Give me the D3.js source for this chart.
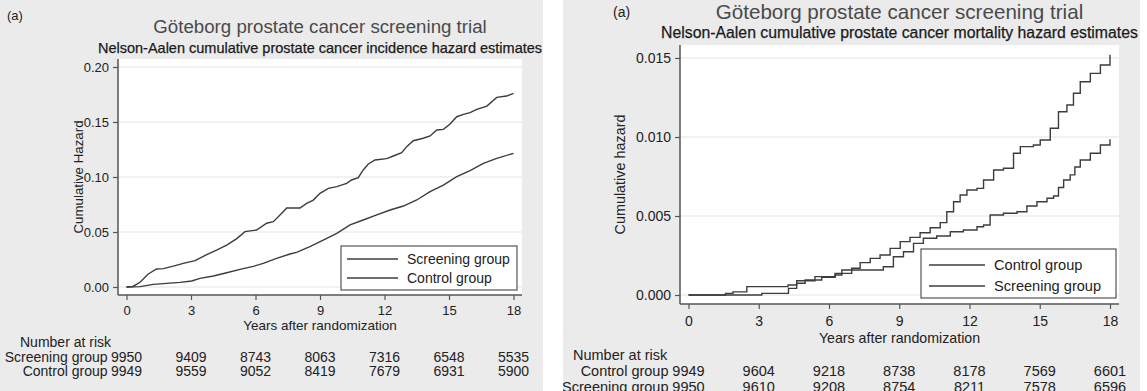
<!DOCTYPE html>
<html>
<head>
<meta charset="utf-8">
<script src="https://cdn.jsdelivr.net/npm/d3@7"></script>
<style>
  body { margin: 0; background: #fff; }
  svg { display: block; font-family: "Liberation Sans", Arial, sans-serif; }
</style>
</head>
<body>
<svg id="chart" width="1147" height="391"></svg>
<script>
// ---- data ----
var riskYears = [0, 3, 6, 9, 12, 15, 18];

// panel 1: incidence
var incScreening = [[0,0],[0.3,0.0005],[0.63,0.0043],[1.01,0.0118],[1.4,0.0164],[1.71,0.0167],[2.18,0.019],
  [2.64,0.0215],[3.19,0.024],[3.73,0.0294],[4.19,0.0336],[4.66,0.038],[5.13,0.044],[5.51,0.0503],[6.05,0.0518],
  [6.52,0.058],[6.83,0.0594],[7.29,0.0685],[7.45,0.0718],[8.07,0.0718],[8.38,0.076],[8.69,0.079],[9.0,0.0852],
  [9.39,0.0897],[9.78,0.0912],[10.24,0.0942],[10.47,0.0973],[10.78,0.0994],[11.01,0.1064],[11.25,0.1118],
  [11.56,0.1155],[12.1,0.1167],[12.41,0.1191],[12.8,0.1221],[13.03,0.1276],[13.34,0.133],[13.8,0.1352],
  [14.12,0.1373],[14.43,0.1427],[14.74,0.1433],[15.05,0.1482],[15.36,0.1548],[15.67,0.157],[15.98,0.1585],
  [16.29,0.1615],[16.76,0.1645],[17.22,0.1724],[17.68,0.1736],[18,0.176]];
var incControl = [[0,0],[0.63,0.0003],[1.25,0.0024],[1.87,0.0033],[2.49,0.0042],[3.03,0.0055],[3.42,0.0079],
  [4.04,0.01],[4.66,0.013],[5.28,0.016],[5.9,0.0188],[6.36,0.0215],[6.98,0.026],[7.6,0.03],[7.91,0.0315],
  [8.53,0.0367],[9.15,0.0427],[9.78,0.0488],[10.4,0.0564],[11.01,0.0609],[11.64,0.0655],[12.26,0.07],
  [12.88,0.0736],[13.5,0.0791],[14.12,0.0867],[14.74,0.0927],[15.36,0.1003],[15.98,0.1058],[16.6,0.1124],
  [17.22,0.117],[18,0.1215]];
var incScreeningRisk = [9950, 9409, 8743, 8063, 7316, 6548, 5535];
var incControlRisk = [9949, 9559, 9052, 8419, 7679, 6931, 5900];
var incTicks = [0, 0.05, 0.10, 0.15, 0.20];

// panel 2: mortality
var mortControl = [[0,0],[3.13,0.0001],[4.27,0.00042],[4.62,0.00074],[4.98,0.00095],[5.69,0.00112],[6.26,0.00137],
  [6.97,0.00169],[7.33,0.00205],[7.76,0.00232],[8.18,0.00253],[8.61,0.00295],[9.04,0.00338],[9.46,0.00365],
  [9.89,0.00394],[10.32,0.00426],[10.75,0.00458],[11.03,0.00527],[11.32,0.0059],[11.6,0.00633],[11.89,0.00665],
  [12.32,0.00675],[12.6,0.00728],[13.03,0.00791],[13.45,0.00802],[13.88,0.00897],[14.17,0.00939],[14.73,0.00949],
  [15.02,0.00981],[15.45,0.01055],[15.8,0.0116],[16.16,0.01203],[16.44,0.01277],[16.73,0.0135],[17.16,0.01403],
  [17.59,0.01456],[18,0.0152]];
var mortScreening = [[0,0],[1.58,0.0001],[1.9,0.0002],[2.49,0.00053],[4.25,0.00063],[4.62,0.0009],[5.4,0.00116],
  [6.26,0.00127],[6.55,0.00158],[8.32,0.00179],[8.75,0.00242],[9.18,0.00274],[9.61,0.00327],[10.03,0.00359],
  [10.6,0.00373],[11.18,0.004],[11.74,0.00411],[12.32,0.00432],[12.6,0.00443],[12.88,0.00506],[13.45,0.00517],
  [14.03,0.00527],[14.45,0.00563],[14.88,0.0059],[15.31,0.00612],[15.59,0.00627],[15.8,0.0068],[16.02,0.00728],
  [16.3,0.0076],[16.5,0.0081],[16.73,0.00854],[17.16,0.00897],[17.59,0.00949],[18,0.00985]];
var mortControlRisk = [9949, 9604, 9218, 8738, 8178, 7569, 6601];
var mortScreeningRisk = [9950, 9610, 9208, 8754, 8211, 7578, 6596];
var mortTicks = [0, 0.005, 0.010, 0.015];

var svg = d3.select('#chart');
var lineCol = '#3c3c3c';

function drawPanel(p) {
  var g = svg.append('g');
  var clipId = 'clip' + p.id;
  svg.append('clipPath').attr('id', clipId).append('rect')
    .attr('x', p.bx0).attr('y', 0).attr('width', p.bx1 - p.bx0).attr('height', 391);
  g.attr('clip-path', 'url(#' + clipId + ')');

  g.append('rect').attr('x', p.bx0).attr('y', 0).attr('width', p.bx1 - p.bx0).attr('height', 391)
    .attr('fill', '#ebebeb');

  var x = d3.scaleLinear().domain([0, 18]).range([p.x0, p.x18]);
  var y = d3.scaleLinear().domain([0, p.yTicks[p.yTicks.length - 1]]).range([p.y0, p.yTop]);
  var cx = (p.left + p.right) / 2;

  // plot area
  g.append('rect').attr('x', p.left).attr('y', p.top).attr('width', p.right - p.left)
    .attr('height', p.bottom - p.top).attr('fill', '#fff');
  g.selectAll('.grid').data(p.yTicks).enter().append('line')
    .attr('x1', p.left).attr('x2', p.right)
    .attr('y1', function(d){ return y(d); }).attr('y2', function(d){ return y(d); })
    .attr('stroke', '#ececec').attr('stroke-width', 1.5);

  // titles
  g.append('text').attr('x', p.aX).attr('y', p.aY).attr('font-size', p.aSize).attr('fill', '#222').text('(a)');
  g.append('text').attr('x', cx).attr('y', p.titleY).attr('text-anchor', 'middle')
    .attr('font-size', p.titleSize).attr('fill', '#4a4a4a').text('Göteborg prostate cancer screening trial');
  g.append('text').attr('x', cx).attr('y', p.subY).attr('text-anchor', 'middle')
    .attr('font-size', p.subSize).attr('fill', '#1a1a1a').attr('stroke', '#1a1a1a').attr('stroke-width', 0.25)
    .text(p.subtitle);

  // axes
  var yAxis = d3.axisLeft(y).tickValues(p.yTicks).tickFormat(d3.format(p.yFmt)).tickSize(5).tickPadding(4);
  var ya = g.append('g').attr('transform', 'translate(' + p.left + ',0)').call(yAxis);
  ya.select('.domain').attr('d', 'M0,' + p.top + 'V' + p.bottom);
  var xAxis = d3.axisBottom(x).tickValues(riskYears).tickSize(5).tickPadding(p.xPad);
  var xa = g.append('g').attr('transform', 'translate(0,' + p.bottom + ')').call(xAxis);
  xa.select('.domain').attr('d', 'M' + p.left + ',0H' + p.right);
  [ya, xa].forEach(function(a) {
    a.selectAll('.domain').attr('stroke', '#555').attr('stroke-width', 1.5);
    a.selectAll('.tick line').attr('stroke', '#555').attr('stroke-width', 1.2);
    a.selectAll('.tick text').attr('fill', '#222').attr('font-size', p.tickSize)
      .attr('font-family', '"Liberation Sans", Arial, sans-serif');
  });

  g.append('text').attr('transform', 'translate(' + p.yLabX + ',' + ((p.top + p.bottom) / 2) + ') rotate(-90)')
    .attr('text-anchor', 'middle').attr('font-size', p.yLabSize).attr('fill', '#222').text(p.yLabel);
  g.append('text').attr('x', cx).attr('y', p.xLabY).attr('text-anchor', 'middle')
    .attr('font-size', p.xLabSize).attr('fill', '#222').text('Years after randomization');

  // lines
  var line = d3.line().x(function(d){ return x(d[0]); }).y(function(d){ return y(d[1]); }).curve(p.curve);
  p.series.forEach(function(s) {
    g.append('path').datum(s.data).attr('d', line).attr('fill', 'none')
      .attr('stroke', lineCol).attr('stroke-width', 1.4);
  });

  // legend
  g.append('rect').attr('x', p.lg.x).attr('y', p.lg.y).attr('width', p.lg.w).attr('height', p.lg.h)
    .attr('fill', '#fff').attr('stroke', '#555').attr('stroke-width', 1.2);
  p.series.forEach(function(s, i) {
    var ly = p.lg.y + p.lg.row0 + i * p.lg.step;
    g.append('line').attr('x1', p.lg.x + p.lg.l0).attr('x2', p.lg.x + p.lg.l1)
      .attr('y1', ly).attr('y2', ly).attr('stroke', lineCol).attr('stroke-width', 1.4);
    g.append('text').attr('x', p.lg.x + p.lg.tx).attr('y', ly + 5).attr('font-size', p.lg.size)
      .attr('fill', '#222').text(s.name);
  });

  // number at risk table
  g.append('text').attr('x', p.narX).attr('y', p.narY).attr('font-size', p.narSize).attr('fill', '#222')
    .text('Number at risk');
  p.series.forEach(function(s, i) {
    var ry = p.narY + p.rowGap * (i + 1);
    g.append('text').attr('x', x(0) - p.labGap).attr('y', ry).attr('text-anchor', 'end')
      .attr('font-size', p.narSize).attr('fill', '#222').text(s.name);
    g.selectAll('.risk' + i).data(s.risk).enter().append('text')
      .attr('x', function(d, j){ return x(riskYears[j]); }).attr('y', ry)
      .attr('text-anchor', 'middle').attr('font-size', p.narSize).attr('fill', '#222')
      .text(function(d){ return d; });
  });
}

drawPanel({
  id: 1, bx0: 0, bx1: 543,
  left: 118, right: 522, top: 59, bottom: 295,
  x0: 126.5, x18: 513.5, y0: 287, yTop: 67,
  yTicks: incTicks, yFmt: '.2f', tickSize: 13, xPad: 6,
  aX: 7, aY: 20, aSize: 13,
  titleY: 33, titleSize: 18.7, subY: 53, subSize: 14.5,
  subtitle: 'Nelson-Aalen cumulative prostate cancer incidence hazard estimates',
  yLabel: 'Cumulative Hazard', yLabX: 83, yLabSize: 13.3,
  xLabY: 330, xLabSize: 13.5,
  curve: d3.curveLinear,
  series: [
    { name: 'Screening group', data: incScreening, risk: incScreeningRisk },
    { name: 'Control group', data: incControl, risk: incControlRisk }
  ],
  lg: { x: 341, y: 246, w: 176, h: 44, row0: 13, step: 19, l0: 6, l1: 57, tx: 66, size: 14 },
  narX: 20, narY: 347, narSize: 14, rowGap: 14.5, labGap: 19
});

drawPanel({
  id: 2, bx0: 563, bx1: 1140,
  left: 680, right: 1119, top: 45, bottom: 304,
  x0: 688.5, x18: 1110, y0: 295, yTop: 58,
  yTicks: mortTicks, yFmt: '.3f', tickSize: 14, xPad: 7,
  aX: 613, aY: 17, aSize: 14,
  titleY: 19, titleSize: 20.6, subY: 38, subSize: 15.8,
  subtitle: 'Nelson-Aalen cumulative prostate cancer mortality hazard estimates',
  yLabel: 'Cumulative hazard', yLabX: 625, yLabSize: 14.4,
  xLabY: 343, xLabSize: 14.2,
  curve: d3.curveStepAfter,
  series: [
    { name: 'Control group', data: mortControl, risk: mortControlRisk },
    { name: 'Screening group', data: mortScreening, risk: mortScreeningRisk }
  ],
  lg: { x: 921, y: 249, w: 195, h: 49, row0: 16, step: 21, l0: 8, l1: 64, tx: 73, size: 14.6 },
  narX: 573, narY: 360, narSize: 14.5, rowGap: 16, labGap: 20
});
</script>
</body>
</html>
